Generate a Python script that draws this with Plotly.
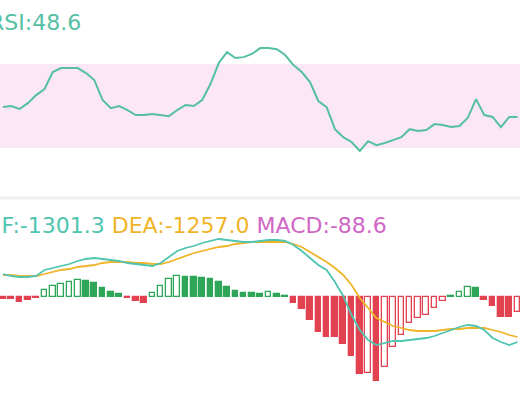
import plotly.graph_objects as go

# RSI per candle
rsi = [49.5, 50, 48.6, 51.4, 55.2, 58.1, 66.2, 68.1, 68.1, 68.1, 65.7, 62.4, 52.9, 49, 50, 48.1,
       45.7, 45.7, 46.2, 45.7, 45.2, 48.1, 50.5, 50, 52.9, 60.5, 70.5, 75.7, 72.9, 73.3, 74.8, 77.6,
       77.6, 77.1, 74.3, 69.5, 66.2, 61.4, 52.4, 49.5, 39, 35.2, 32.9, 28.6, 33.3, 31.4, 32.4, 33.8,
       35.2, 39, 38.1, 38.6, 41.4, 41, 40, 40.5, 44.3, 53.3, 45.7, 44.8, 40, 44.8, 44.8]

# MACD histogram, DIF and DEA (units of 10)
macd = [-2, -2, -5, -3, -1, 7, 11, 13, 15, 17, 16, 14, 9, 5, 3, -1, -4, -6, 4, 11, 18, 21, 20, 20,
        19, 18, 15, 10, 6, 4, 4, 3, 5, 3, 1, -6, -12, -23, -35, -40, -40, -47, -59, -77, -76, -84,
        -70, -50, -38, -26, -21, -18, -11, -4, 1, 5, 10, 9, -3, -9, -20, -20, -15]
dif = [23, 21, 20, 20, 21, 27, 29, 31, 33, 36, 38, 39, 38, 37, 36, 34, 33, 32, 31, 34, 40, 46, 49,
       51, 54, 56, 58, 57, 56, 55, 55, 56, 57, 57, 56, 52, 46, 39, 32, 27, 15, 1, -18, -33, -43,
       -48, -46, -44, -44, -43, -42, -41, -39, -36, -33, -30, -28, -29, -33, -41, -45, -48, -45]
dea = [22, 22, 21, 21, 21, 23, 25, 27, 28, 30, 31, 32, 34, 35, 35, 35, 34, 34, 33, 33, 35, 38, 41,
       44, 46, 48, 50, 51, 53, 54, 55, 55, 55, 55, 55, 53, 50, 45, 40, 35, 29, 22, 12, -1, -11,
       -21, -25, -29, -31, -33, -34, -34, -34, -33, -32, -32, -31, -31, -31, -33, -35, -38, -40]

x = list(range(len(rsi)))
GREEN, RED = "#2ea657", "#e2424f"

fill, edge = [], []
for i, v in enumerate(macd):
    c = GREEN if v > 0 else RED
    rising = i > 0 and v > macd[i - 1]
    edge.append(c)
    fill.append("white" if rising and abs(v) > 3 else c)

fig = go.Figure()
fig.add_trace(go.Scatter(x=x, y=rsi, mode="lines", line=dict(color="#55bfa3", width=2),
                         xaxis="x", yaxis="y"))
fig.add_trace(go.Bar(x=x, y=macd, width=0.68, marker=dict(color=fill, line=dict(color=edge, width=1.3)),
                     xaxis="x2", yaxis="y2"))
fig.add_trace(go.Scatter(x=x, y=dea, mode="lines", line=dict(color="#f0b429", width=1.8),
                         xaxis="x2", yaxis="y2"))
fig.add_trace(go.Scatter(x=x, y=dif, mode="lines", line=dict(color="#4fc4b0", width=1.8),
                         xaxis="x2", yaxis="y2"))

ax = dict(range=[-0.36, 62.3], visible=False)
fig.update_layout(
    width=520, height=400, margin=dict(l=0, r=0, t=0, b=0), showlegend=False,
    plot_bgcolor="white", paper_bgcolor="white", bargap=0,
    font=dict(family="DejaVu Sans, sans-serif"),
    xaxis=dict(ax, anchor="y"), xaxis2=dict(ax, anchor="y2"),
    yaxis=dict(domain=[0.5075, 1], range=[6.7, 100.5], visible=False),
    yaxis2=dict(domain=[0, 0.5], range=[-103, 97], visible=False),
    shapes=[
        dict(type="rect", xref="paper", yref="y", x0=0, x1=1, y0=30, y1=70,
             fillcolor="#fce8f5", line_width=0, layer="below"),
        dict(type="line", xref="paper", yref="paper", x0=0, x1=1, y0=0.505, y1=0.505,
             line=dict(color="#f0f0f2", width=3)),
    ],
    annotations=[
        dict(xref="paper", yref="paper", x=83 / 520, y=1 - 22 / 400, xanchor="right", yanchor="middle",
             showarrow=False, text="RSI:48.6", font=dict(size=22, color="#55bfa3")),
        dict(xref="paper", yref="paper", x=389 / 520, y=1 - 225 / 400, xanchor="right", yanchor="middle",
             showarrow=False, font=dict(size=22),
             text="<span style='color:#4fc4b0'>DIF:-1301.3</span> "
                  "<span style='color:#f0b429'>DEA:-1257.0</span> "
                  "<span style='color:#d066c6'>MACD:-88.6</span>"),
    ],
)
fig.write_html("out.html", config={"displayModeBar": False},
               post_script="document.body.style.margin='0';")
